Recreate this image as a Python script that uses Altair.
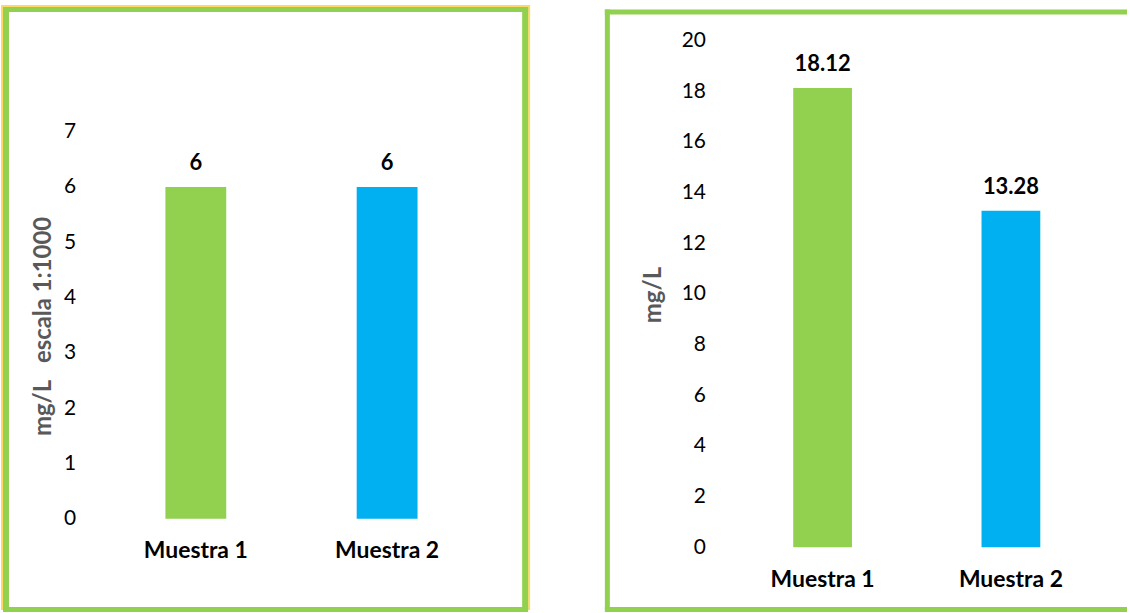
import altair as alt
import pandas as pd

categories = ["Muestra 1", "Muestra 2"]
left_values = [6, 6]
left_labels = ["6", "6"]
right_values = [18.12, 13.28]
right_labels = ["18.12", "13.28"]
left_ticks = [0, 1, 2, 3, 4, 5, 6, 7]
right_ticks = [0, 2, 4, 6, 8, 10, 12, 14, 16, 18, 20]
bar_colors = ["#92D050", "#00B0F0"]
left_title = "mg/L\u00a0\u00a0\u00a0escala 1:1000"
right_title = "mg/L"

FONT = "Lato"
GREEN = "#92D050"
YELLOW = "#FFD966"
H = 613
LW = 533
RW = 526

rule_src = pd.DataFrame({"k": [0]})


def hrule(y, x1, x2, color, w):
    return alt.Chart(rule_src).mark_rule(color=color, strokeWidth=w).encode(
        x=alt.value(x1), x2=alt.value(x2), y=alt.value(y))


def vrule(x, y1, y2, color, w):
    return alt.Chart(rule_src).mark_rule(color=color, strokeWidth=w).encode(
        x=alt.value(x), y=alt.value(y1), y2=alt.value(y2))


def panel(values, labels, ticks, ydomain, yrange, xrange, pin, pout,
          ytitle, title_x, title_y, yoffset, xoffset):
    df = pd.DataFrame({"cat": categories, "val": values, "lab": labels})
    x = alt.X(
        "cat:N", sort=categories,
        scale=alt.Scale(range=xrange, paddingInner=pin, paddingOuter=pout),
        axis=alt.Axis(title=None, labelAngle=0, labelFont=FONT, labelFontSize=23,
                      labelFontWeight="bold", labelColor="black", domain=False,
                      ticks=False, labelPadding=21, offset=xoffset),
    )
    y = alt.Y(
        "val:Q",
        scale=alt.Scale(domain=ydomain, range=yrange, nice=False, zero=True),
        axis=alt.Axis(values=ticks, format="d", grid=False, domain=False, ticks=False,
                      labelFont=FONT, labelFontSize=21, labelColor="black",
                      labelPadding=0, offset=yoffset,
                      title=ytitle, titleFont=FONT, titleFontSize=24,
                      titleFontWeight="bold", titleColor="#595959",
                      titleAngle=270, titleAlign="center", titleBaseline="middle",
                      titleX=title_x, titleY=title_y),
    )
    color = alt.Color("cat:N", scale=alt.Scale(domain=categories, range=bar_colors),
                      legend=None)
    bars = alt.Chart(df).mark_bar().encode(x=x, y=y, color=color)
    text = alt.Chart(df).mark_text(dy=-17, baseline="alphabetic", font=FONT,
                                   fontSize=22, fontWeight="bold", color="black").encode(
        x=alt.X("cat:N", sort=categories), y="val:Q", text="lab:N")
    return bars, text


# left panel: view origin at page (0, 0)
lb, lt = panel(left_values, left_labels, left_ticks, [0, 7], [519.5, 131],
               [70, 515], 0.682, 0.5, left_title, -32.5, 326, -76, -93.5)
left_frame = [
    hrule(5, 2, 531, YELLOW, 2),
    vrule(2, 4, 611, YELLOW, 2),
    vrule(531, 4, 611, YELLOW, 2),
    hrule(8.5, 3, 530, GREEN, 5),
    hrule(610.5, 3, 530, GREEN, 5),
    vrule(6, 6, 610, GREEN, 6),
    vrule(527, 6, 610, GREEN, 6),
]
left = alt.layer(lb, lt, *left_frame).properties(
    width=LW, height=H, view=alt.ViewBackground(stroke=None, fill="white"),
)

# right panel: view origin at page (604, 0)
rb, rt = panel(right_values, right_labels, right_ticks, [0, 20], [548, 39.5],
               [106, 524], 0.688, 0.45, right_title, -52, 294.5, -103, -65)
right_frame = [
    hrule(11, 2, RW, GREEN, 5),
    hrule(610.5, 2, RW, GREEN, 5),
    vrule(4.5, 8.5, 610.5, GREEN, 5),
]
right = alt.layer(rb, rt, *right_frame).properties(
    width=RW, height=H, view=alt.ViewBackground(stroke=None, fill="white"),
)

chart = alt.hconcat(left, right, spacing=71).properties(
    padding={"left": 0, "top": 0, "right": 0, "bottom": 0},
    background="white",
).configure_view(strokeWidth=0)

chart.save("out.html", embed_options={"renderer": "svg", "actions": False})
